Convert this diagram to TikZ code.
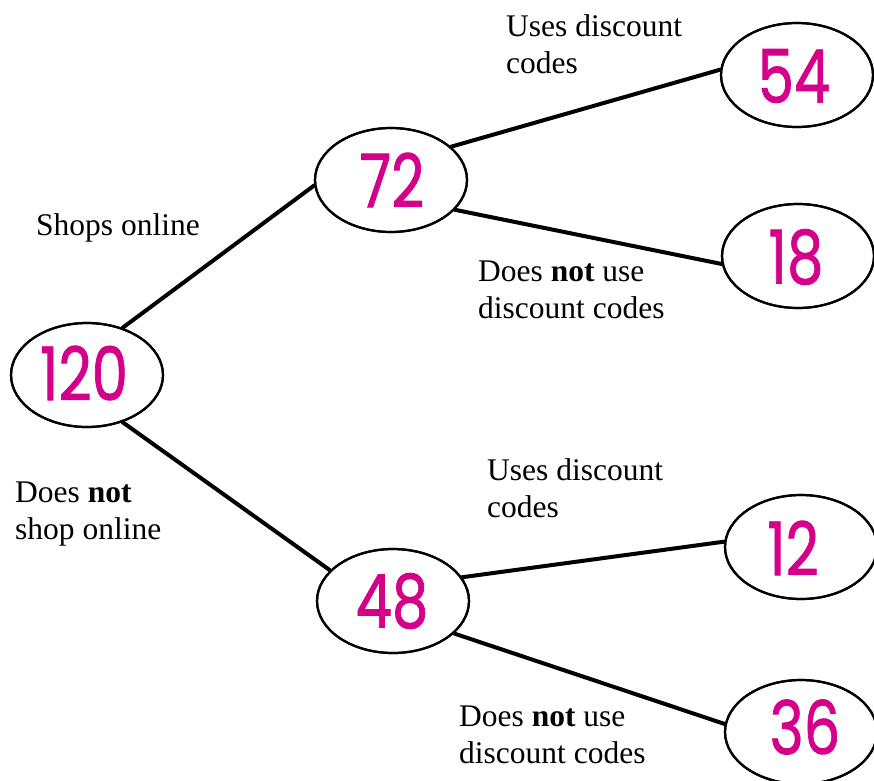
\documentclass[tikz,border=0pt]{standalone}
\usepackage{fontspec}
\setmainfont{Liberation Serif}
\newfontfamily\numfont{Poppins}[FakeBold=1.2]
\usetikzlibrary{shapes.geometric}
\definecolor{ink}{HTML}{D4008A}
\tikzset{
  count/.style={ellipse, draw=black, line width=2.2pt, fill=white,
    minimum width=152pt, minimum height=104pt, inner sep=0pt},
  num/.style={text=ink, font=\numfont\fontsize{74}{74}\selectfont, inner sep=0pt, xscale=0.78},
  branch/.style={line width=4pt, line cap=round},
  lbl/.style={anchor=north west, align=left, inner sep=0pt,
    font=\fontsize{31.5}{37}\selectfont}
}
\begin{document}
\begin{tikzpicture}[x=1pt, y=-1pt]
\useasboundingbox (0,0) rectangle (874,780);
\clip (0,0) rectangle (874,780);

% outcome counts
\node[count] (root) at (87,375) {};
\node[count] (on)   at (391,180) {};
\node[count] (off)  at (393,601) {};
\node[count] (onyes) at (797,75) {};
\node[count] (onno)  at (798,256) {};
\node[count] (offyes) at (801,547) {};
\node[count] (offno)  at (801,732) {};

% branches
\draw[branch] (root.53) -- (on.184);
\draw[branch] (root.-53) -- (off.154);
\draw[branch] (on.29) -- (onyes.176);
\draw[branch] (on.-25) -- (onno.186);
\draw[branch] (off.19) -- (offyes.176);
\draw[branch] (off.-28) -- (offno.174);

% redraw outlines over the branch ends
\foreach \n in {root,on,off,onyes,onno,offyes,offno}
  \draw[line width=2.2pt] (\n) ellipse [x radius=76pt, y radius=52pt];

% handwritten-style numbers
\node[num] (t120) at (84,373) {120};
\node[num] (t72)  at (392,180) {72};
\node[num] (t48)  at (392,601) {48};
\node[num] (t54)  at (794,76) {54};
\node[num] (t18)  at (796,257) {18};
\node[num] (t12)  at (793,548) {12};
\node[num] (t36)  at (805,727) {36};

% branch labels (top edge of first line)
\node[lbl] (l1) at (506,14) {Uses discount\\codes};
\node[lbl] (l2) at (36,213) {Shops online};
\node[lbl] (l3) at (478,261) {Does \textbf{not} use\\discount codes};
\node[lbl] (l4) at (15,482) {Does \textbf{not}\\shop online};
\node[lbl] (l5) at (487,458) {Uses discount\\codes};
\node[lbl] (l6) at (459,706) {Does \textbf{not} use\\discount codes};
\end{tikzpicture}
\end{document}
